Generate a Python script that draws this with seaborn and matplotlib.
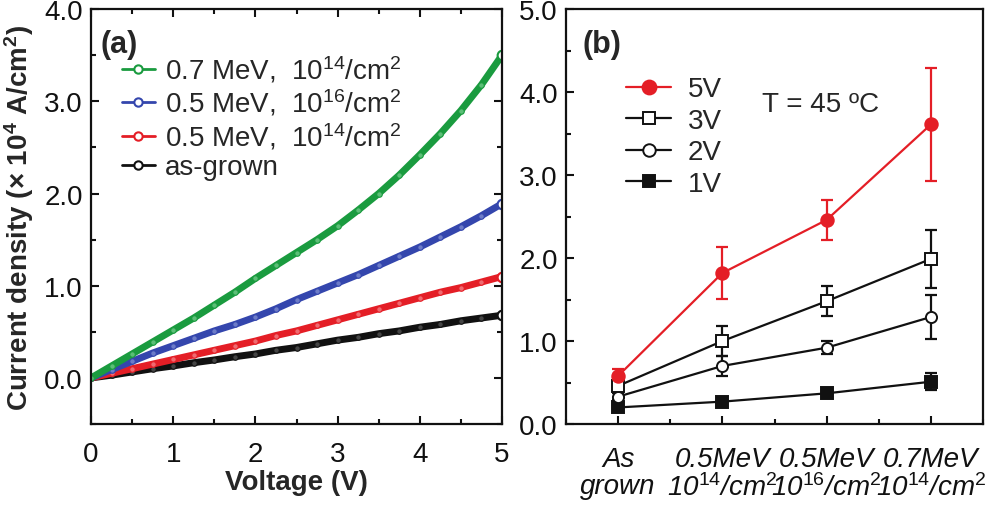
import matplotlib
matplotlib.use('Agg')
import matplotlib.pyplot as plt
import seaborn as sns
from matplotlib.lines import Line2D
from matplotlib.ticker import MultipleLocator, FormatStrFormatter

# ---------------- data: panel (a) ----------------
voltage = [0, 0.25, 0.5, 0.75, 1.0, 1.25, 1.5, 1.75, 2.0, 2.25, 2.5,
           2.75, 3.0, 3.25, 3.5, 3.75, 4.0, 4.25, 4.5, 4.75, 5.0]
j_07_1e14 = [0, 0.13, 0.26, 0.39, 0.52, 0.65, 0.79, 0.93, 1.08, 1.22, 1.36,
             1.50, 1.65, 1.82, 2.00, 2.20, 2.42, 2.65, 2.90, 3.18, 3.50]
j_05_1e16 = [0, 0.09, 0.18, 0.27, 0.35, 0.43, 0.51, 0.58, 0.66, 0.75, 0.85,
             0.94, 1.03, 1.12, 1.22, 1.32, 1.42, 1.53, 1.64, 1.76, 1.89]
j_05_1e14 = [0, 0.05, 0.10, 0.15, 0.20, 0.25, 0.30, 0.35, 0.40, 0.46, 0.51,
             0.57, 0.63, 0.69, 0.75, 0.81, 0.87, 0.93, 0.98, 1.04, 1.10]
j_asgrown = [0, 0.03, 0.065, 0.10, 0.13, 0.165, 0.195, 0.23, 0.26, 0.30, 0.33,
             0.37, 0.41, 0.44, 0.48, 0.51, 0.55, 0.58, 0.62, 0.65, 0.68]
labels_a = ['0.7 MeV,  10$^{14}$/cm$^{2}$', '0.5 MeV,  10$^{16}$/cm$^{2}$',
            '0.5 MeV,  10$^{14}$/cm$^{2}$', 'as-grown']

# ---------------- data: panel (b) ----------------
categories = ['As\ngrown',
              '0.5MeV\n10$^{\\mathit{14}}$/cm$^{\\mathit{2}}$',
              '0.5MeV\n10$^{\\mathit{16}}$/cm$^{\\mathit{2}}$',
              '0.7MeV\n10$^{\\mathit{14}}$/cm$^{\\mathit{2}}$']
v5 = [0.58, 1.82, 2.46, 3.61]
v5_err = [0.08, 0.31, 0.24, 0.68]
v3 = [0.46, 1.00, 1.48, 1.99]
v3_err = [0.03, 0.18, 0.18, 0.35]
v2 = [0.33, 0.70, 0.92, 1.29]
v2_err = [0.04, 0.12, 0.08, 0.26]
v1 = [0.20, 0.27, 0.37, 0.51]
v1_err = [0.02, 0.02, 0.03, 0.10]

# ---------------- style ----------------
sns.set_theme(style='ticks')
plt.rcParams['font.family'] = ['Liberation Sans', 'DejaVu Sans']
plt.rcParams['mathtext.fontset'] = 'custom'
plt.rcParams['mathtext.rm'] = 'Liberation Sans'
plt.rcParams['mathtext.it'] = 'Liberation Sans:italic'
plt.rcParams['mathtext.bf'] = 'Liberation Sans:bold'
plt.rcParams['axes.linewidth'] = 1.6

FS = 20
GREEN, BLUE, RED, BLACK = '#1a9b3f', '#3446ad', '#e41e26', '#111111'
LIGHT = {GREEN: '#5cbf77', BLUE: '#6d7cc8', RED: '#ef6a70', BLACK: '#444444'}

fig = plt.figure(figsize=(10, 5.06), dpi=100)
axa = fig.add_axes([0.091, 0.160, 0.411, 0.820])
axb = fig.add_axes([0.566, 0.160, 0.417, 0.820])

# ---------------- panel (a) ----------------
series_a = [j_07_1e14, j_05_1e16, j_05_1e14, j_asgrown]
colors_a = [GREEN, BLUE, RED, BLACK]
for ys, c in zip(series_a[::-1], colors_a[::-1]):
    sns.lineplot(x=voltage, y=ys, ax=axa, color=c, lw=5, marker='o',
                 markersize=4, markerfacecolor=LIGHT[c], markeredgecolor=c,
                 markeredgewidth=0.8, legend=False)
    # open circle at the final measured point
    axa.plot(voltage[-1:], ys[-1:], 'o', ms=7, mfc='white', mec=c, mew=1.5)
handles_a = [Line2D([], [], color=c, lw=2, marker='o', markersize=6,
                    markerfacecolor='white', markeredgecolor=c, markeredgewidth=1.5)
             for c in colors_a]
axa.legend(handles_a, labels_a, loc='upper left', bbox_to_anchor=(0.075, 0.893),
           frameon=False, fontsize=FS, handlelength=1.2, handletextpad=0.35,
           labelspacing=0.1, borderpad=0, borderaxespad=0)

axa.set_xlim(0, 5)
axa.set_ylim(-0.5, 4.0)
axa.xaxis.set_major_locator(MultipleLocator(1))
axa.xaxis.set_minor_locator(MultipleLocator(0.5))
axa.yaxis.set_major_locator(MultipleLocator(1))
axa.yaxis.set_minor_locator(MultipleLocator(0.5))
axa.yaxis.set_major_formatter(FormatStrFormatter('%.1f'))
axa.tick_params(which='both', direction='in', top=True, right=True, width=1.5,
                labelsize=FS, colors=BLACK)
axa.tick_params(which='major', length=6)
axa.tick_params(which='minor', length=3.5)
axa.tick_params(axis='x', pad=12)
axa.tick_params(axis='y', pad=6)
axa.set_xlabel('Voltage (V)', fontsize=FS, fontweight='bold', labelpad=2)
axa.set_ylabel('Current density (× 10$^{\\mathbf{4}}$ A/cm$^{\\mathbf{2}}$)',
               fontsize=FS, fontweight='bold', labelpad=6)
axa.text(0.022, 0.915, '(a)', transform=axa.transAxes, fontsize=22,
         fontweight='bold', va='center', ha='left')
for s in axa.spines.values():
    s.set_color(BLACK)

# ---------------- panel (b) ----------------
pos = list(range(len(categories)))
specs = [
    (v1, v1_err, '1V', BLACK, 's', BLACK, 8),
    (v2, v2_err, '2V', BLACK, 'o', 'white', 8),
    (v3, v3_err, '3V', BLACK, 's', 'white', 8),
    (v5, v5_err, '5V', RED, 'o', RED, 9),
]
handles_b = {}
for ys, err, lab, c, m, fc, ms in specs:
    axb.errorbar(pos, ys, yerr=err, fmt='none', ecolor=c, elinewidth=1.6,
                 capsize=4, capthick=1.6, zorder=2)
    sns.lineplot(x=pos, y=ys, ax=axb, color=c, lw=1.6, marker=m,
                 markersize=ms, markerfacecolor=fc, markeredgecolor=c,
                 markeredgewidth=1.4, legend=False, zorder=3)
    handles_b[lab] = Line2D([], [], color=c, lw=1.6, marker=m,
                            markersize=ms + 1, markerfacecolor=fc,
                            markeredgecolor=c, markeredgewidth=1.4)
order = ['5V', '3V', '2V', '1V']
axb.legend([handles_b[k] for k in order], order, loc='upper left',
           bbox_to_anchor=(0.145, 0.838), frameon=False, fontsize=FS,
           handlelength=1.6, handletextpad=0.6, labelspacing=0.2,
           borderpad=0, borderaxespad=0)
axb.text(0.47, 0.772, 'T = 45 ºC', transform=axb.transAxes, fontsize=FS,
         va='center', ha='left')
axb.text(0.04, 0.915, '(b)', transform=axb.transAxes, fontsize=22,
         fontweight='bold', va='center', ha='left')

axb.set_xlim(-0.5, 3.5)
axb.set_ylim(0, 5)
axb.set_xticks(pos)
axb.set_xticklabels(categories, fontsize=20, style='italic', linespacing=1.05)
axb.xaxis.set_minor_locator(MultipleLocator(0.5))
axb.yaxis.set_major_locator(MultipleLocator(1))
axb.yaxis.set_minor_locator(MultipleLocator(0.5))
axb.yaxis.set_major_formatter(FormatStrFormatter('%.1f'))
axb.tick_params(which='both', direction='in', width=1.5, colors=BLACK)
axb.tick_params(axis='y', labelsize=FS)
axb.tick_params(which='major', length=6)
axb.tick_params(which='minor', length=3.5)
axb.tick_params(axis='x', pad=16)
axb.tick_params(axis='y', pad=6)
axb.set_xlabel('')
axb.set_ylabel('')
for s in axb.spines.values():
    s.set_color(BLACK)

fig.savefig('out.png', dpi=100)
